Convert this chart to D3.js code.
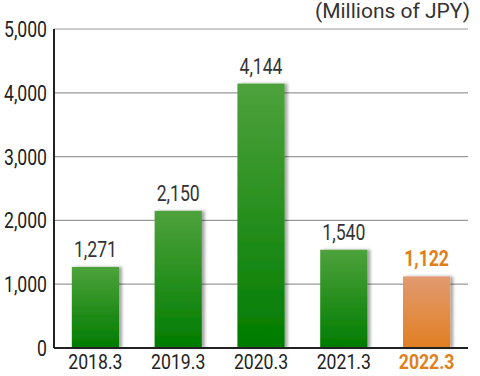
<!DOCTYPE html>
<html>
<head>
<meta charset="utf-8">
<script src="https://cdn.jsdelivr.net/npm/d3@7"></script>
<style>
  body { margin: 0; background: #fff; }
  text { font-family: Roboto, "Liberation Sans", sans-serif; }
</style>
</head>
<body>
<div id="chart"></div>
<script>
var categories = ["2018.3", "2019.3", "2020.3", "2021.3", "2022.3"];
var values = [1271, 2150, 4144, 1540, 1122];
var yTicks = [0, 1000, 2000, 3000, 4000, 5000];
var unitLabel = "(Millions of JPY)";

var width = 480, height = 376;
var margin = {top: 29, right: 12, bottom: 28, left: 54};
var innerW = width - margin.left - margin.right;
var innerH = height - margin.top - margin.bottom;
var squeeze = 0.8; // condensed look

function place(px, py, s) {
  return "translate(" + px + "," + py + ") scale(" + (s || squeeze) + ",1)";
}

var svg = d3.select("#chart").append("svg")
    .attr("width", width)
    .attr("height", height);

var defs = svg.append("defs");
var gGreen = defs.append("linearGradient").attr("id", "gGreen")
    .attr("x1", 0).attr("y1", 0).attr("x2", 0).attr("y2", 1);
gGreen.append("stop").attr("offset", "0%").attr("stop-color", "#4ea23c");
gGreen.append("stop").attr("offset", "100%").attr("stop-color", "#007c00");
var gOrange = defs.append("linearGradient").attr("id", "gOrange")
    .attr("x1", 0).attr("y1", 0).attr("x2", 0).attr("y2", 1);
gOrange.append("stop").attr("offset", "0%").attr("stop-color", "#e29a70");
gOrange.append("stop").attr("offset", "100%").attr("stop-color", "#e17f22");
var shadow = defs.append("filter").attr("id", "shadow")
    .attr("x", "-20%").attr("y", "-10%").attr("width", "150%").attr("height", "120%");
shadow.append("feDropShadow").attr("dx", 3).attr("dy", 0).attr("stdDeviation", 1.5)
    .attr("flood-color", "#000").attr("flood-opacity", 0.35);

var g = svg.append("g")
    .attr("transform", "translate(" + margin.left + "," + margin.top + ")");

var x = d3.scaleBand()
    .domain(categories)
    .range([0, innerW])
    .paddingInner(0.43)
    .paddingOuter(0.215);

var y = d3.scaleLinear()
    .domain([0, 5000])
    .range([innerH, 0]);

// gridlines
g.selectAll(".grid")
    .data(yTicks.slice(1))
  .enter().append("line")
    .attr("class", "grid")
    .attr("x1", 0).attr("x2", innerW)
    .attr("y1", function(d) { return y(d); })
    .attr("y2", function(d) { return y(d); })
    .attr("stroke", "#9a9a9a")
    .attr("stroke-width", 1.2);

// y labels
g.selectAll(".ylab")
    .data(yTicks)
  .enter().append("text")
    .attr("class", "ylab")
    .attr("transform", function(d) { return place(-7, y(d)); })
    .attr("dy", "0.36em")
    .attr("text-anchor", "end")
    .attr("font-size", 22)
    .attr("fill", "#222")
    .text(function(d) { return d3.format(",")(d); });

// bars
g.selectAll(".bar")
    .data(values)
  .enter().append("rect")
    .attr("class", "bar")
    .attr("x", function(d, i) { return x(categories[i]); })
    .attr("y", function(d) { return y(d); })
    .attr("width", x.bandwidth())
    .attr("height", function(d) { return innerH - y(d); })
    .attr("fill", function(d, i) { return i === values.length - 1 ? "url(#gOrange)" : "url(#gGreen)"; })
    .attr("filter", "url(#shadow)");

// value labels
g.selectAll(".vlab")
    .data(values)
  .enter().append("text")
    .attr("class", "vlab")
    .attr("transform", function(d, i) { return place(x(categories[i]) + x.bandwidth() / 2, y(d) - 10); })
    .attr("text-anchor", "middle")
    .attr("font-size", 22)
    .attr("font-weight", function(d, i) { return i === values.length - 1 ? "bold" : "normal"; })
    .attr("fill", function(d, i) { return i === values.length - 1 ? "#e0801a" : "#333"; })
    .text(function(d) { return d3.format(",")(d); });

// axes lines
g.append("line")
    .attr("x1", 0).attr("x2", 0).attr("y1", 0).attr("y2", innerH)
    .attr("stroke", "#222").attr("stroke-width", 2);
g.append("line")
    .attr("x1", 0).attr("x2", innerW).attr("y1", innerH).attr("y2", innerH)
    .attr("stroke", "#222").attr("stroke-width", 2);

// x labels
g.selectAll(".xlab")
    .data(categories)
  .enter().append("text")
    .attr("class", "xlab")
    .attr("transform", function(d) { return place(x(d) + x.bandwidth() / 2, innerH + 21, 0.84); })
    .attr("text-anchor", "middle")
    .attr("font-size", 21)
    .attr("font-weight", function(d, i) { return i === categories.length - 1 ? "bold" : "normal"; })
    .attr("fill", function(d, i) { return i === categories.length - 1 ? "#e0801a" : "#222"; })
    .text(function(d) { return d; });

svg.append("text")
    .attr("transform", place(width - 10, 18, 1))
    .attr("text-anchor", "end")
    .attr("font-size", 21)
    .attr("fill", "#333")
    .text(unitLabel);
</script>
</body>
</html>
